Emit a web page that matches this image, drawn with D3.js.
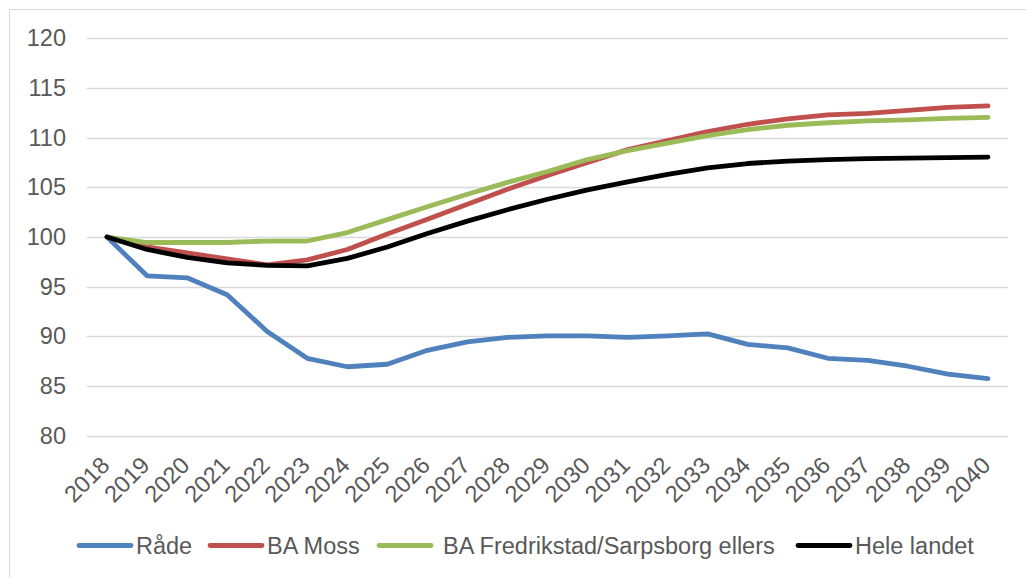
<!DOCTYPE html>
<html>
<head>
<meta charset="utf-8">
<script src="https://cdn.jsdelivr.net/npm/d3@7"></script>
<style>
  html, body { margin: 0; padding: 0; background: #fff; }
  svg { display: block; font-family: "Liberation Sans", Arial, sans-serif; }
</style>
</head>
<body>
<svg id="chart" width="1026" height="578"></svg>
<script>
const years = ['2018', '2019', '2020', '2021', '2022', '2023', '2024', '2025', '2026', '2027', '2028',
  '2029', '2030', '2031', '2032', '2033', '2034', '2035', '2036', '2037', '2038', '2039', '2040'];

const rade = [100, 96.1, 95.9, 94.2, 90.5, 87.8, 86.95, 87.2, 88.6, 89.45, 89.9,
  90.05, 90.05, 89.9, 90.05, 90.25, 89.2, 88.85, 87.8, 87.6, 87.0, 86.2, 85.75];
const baMoss = [100, 99.0, 98.4, 97.8, 97.2, 97.7, 98.75, 100.3, 101.8, 103.3, 104.8,
  106.2, 107.5, 108.8, 109.7, 110.6, 111.35, 111.9, 112.3, 112.45, 112.75, 113.05, 113.2];
const baFredrikstad = [100, 99.45, 99.45, 99.45, 99.6, 99.6, 100.45, 101.75, 103.05, 104.3, 105.5,
  106.6, 107.8, 108.7, 109.45, 110.2, 110.8, 111.25, 111.5, 111.7, 111.8, 111.95, 112.05];
const heleLandet = [100, 98.75, 97.95, 97.4, 97.15, 97.1, 97.85, 99.0, 100.35, 101.6, 102.75,
  103.8, 104.75, 105.55, 106.3, 106.95, 107.4, 107.65, 107.8, 107.9, 107.95, 108.0, 108.05];

const seriesNames = ['Råde', 'BA Moss', 'BA Fredrikstad/Sarpsborg ellers', 'Hele landet'];
const seriesColors = ['#4F81BD', '#C0504D', '#9BBB59', '#000000'];
const yTicks = [80, 85, 90, 95, 100, 105, 110, 115, 120];

const series = [rade, baMoss, baFredrikstad, heleLandet].map((values, i) => ({
  name: seriesNames[i], color: seriesColors[i], values
}));

const svg = d3.select('#chart');
const plotLeft = 87, plotRight = 1008, plotTop = 38.3, plotBottom = 435.8;
const fontSize = 23.5;

// outer chart border (runs off the right and bottom edges)
svg.append('path')
  .attr('d', 'M9.5,578 L9.5,9.5 L1026,9.5')
  .attr('fill', 'none')
  .attr('stroke', '#d9d9d9')
  .attr('stroke-width', 1);

const x = d3.scaleBand().domain(years).range([plotLeft, plotRight]);
const y = d3.scaleLinear().domain([80, 120]).range([plotBottom, plotTop]);

// gridlines
svg.append('g')
  .selectAll('line')
  .data(yTicks)
  .join('line')
  .attr('x1', plotLeft)
  .attr('x2', plotRight)
  .attr('y1', (d) => Math.round(y(d)) + 0.5)
  .attr('y2', (d) => Math.round(y(d)) + 0.5)
  .attr('stroke', '#d9d9d9')
  .attr('stroke-width', 1.3);

// y axis labels
const yAxis = svg.append('g')
  .attr('transform', `translate(${plotLeft - 21},0)`)
  .call(d3.axisLeft(y).tickValues(yTicks).tickSize(0).tickPadding(0));
yAxis.select('.domain').remove();
yAxis.selectAll('text')
  .attr('fill', '#595959')
  .attr('font-size', fontSize)
  .attr('font-family', '"Liberation Sans", Arial, sans-serif');

// x axis labels, rotated
const xAxis = svg.append('g')
  .attr('transform', `translate(0,${plotBottom})`)
  .call(d3.axisBottom(x).tickSize(0).tickPadding(0));
xAxis.select('.domain').remove();
xAxis.selectAll('text')
  .attr('fill', '#595959')
  .attr('font-size', fontSize)
  .attr('font-family', '"Liberation Sans", Arial, sans-serif')
  .attr('text-anchor', 'end')
  .attr('dy', 0)
  .attr('y', 0)
  .attr('transform', 'translate(4,31) rotate(-45)');

// lines
const line = d3.line()
  .x((d, i) => x(years[i]) + x.bandwidth() / 2)
  .y((d) => y(d));

svg.append('g')
  .selectAll('path')
  .data(series)
  .join('path')
  .attr('d', (d) => line(d.values))
  .attr('fill', 'none')
  .attr('stroke', (d) => d.color)
  .attr('stroke-width', 4.8)
  .attr('stroke-linejoin', 'round')
  .attr('stroke-linecap', 'round');

// legend
const legendX = [79, 210, 379, 798];
const legendY = 545.5;
const lg = svg.append('g')
  .selectAll('g')
  .data(series)
  .join('g')
  .attr('transform', (d, i) => `translate(${legendX[i]},${legendY})`);
lg.append('line')
  .attr('x1', 0).attr('x2', 52)
  .attr('stroke', (d) => d.color)
  .attr('stroke-width', 4.8)
  .attr('stroke-linecap', 'round');
lg.append('text')
  .attr('x', (d, i) => (i === 2 ? 64 : 57))
  .attr('y', 8)
  .attr('fill', '#595959')
  .attr('font-size', fontSize)
  .text((d) => d.name);
</script>
</body>
</html>
